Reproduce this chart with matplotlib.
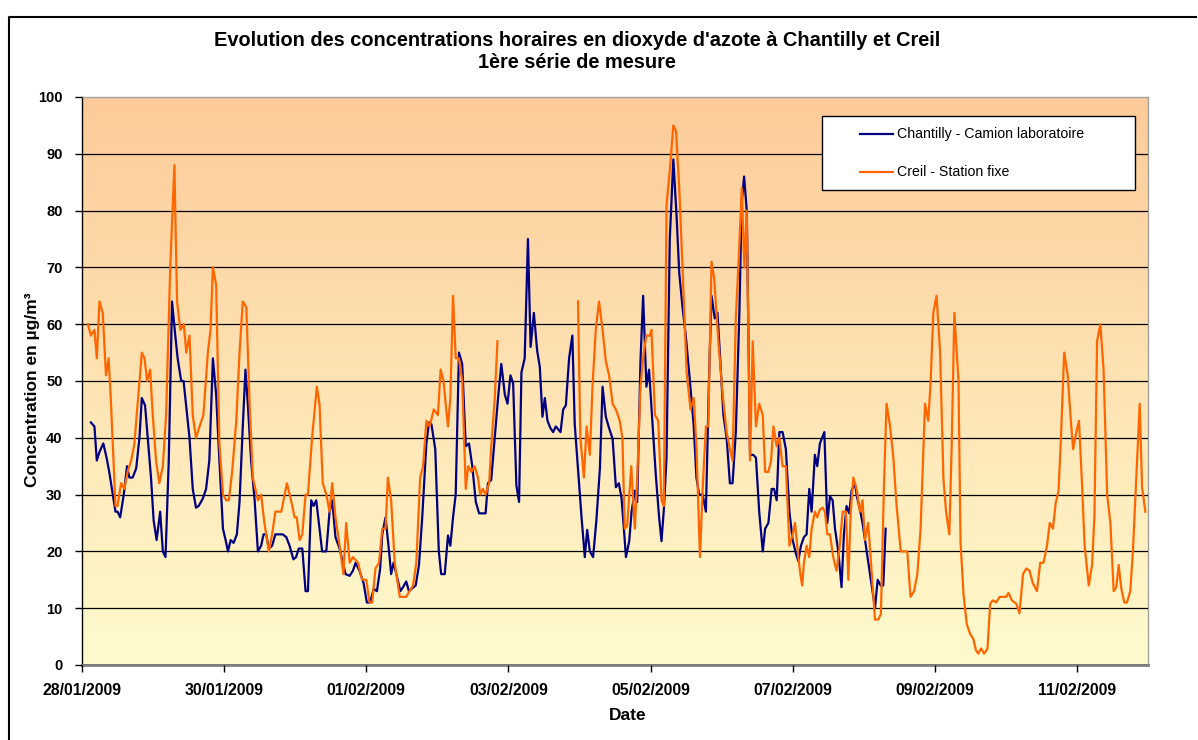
import matplotlib
matplotlib.use("Agg")
import matplotlib.pyplot as plt
import matplotlib.dates as mdates
from matplotlib.colors import LinearSegmentedColormap
from matplotlib.lines import Line2D
from matplotlib.patches import Rectangle
import numpy as np
import pandas as pd

plt.rcParams["font.family"] = ["Liberation Sans", "DejaVu Sans"]

# hours since 28/01/2009 00:00, NO2 in µg/m³
start = pd.Timestamp("2009-01-28 00:00")

chantilly_h = [
    3, 4.2, 5, 5.9, 7.2, 8.3, 9.2, 10.4, 11.3, 12, 12.9, 14.1, 15.2, 16, 17.1,
    18.3, 19.4, 20.2, 21.3, 22.2, 23.3, 24.2, 25.2, 26.4, 27.3, 28.2, 29.3,
    30.4, 31.5, 32.3, 33.5, 34.3, 35.5, 36.3, 37.4, 38.5, 39.4, 40.8, 41.9,
    43, 44.2, 45.3, 46.4, 47.6, 48.5, 49.3, 50.2, 51.2, 52.3, 53.2, 54.3,
    55.2, 56, 57.1, 58.3, 59.4, 60.5, 61.3, 62.2, 63.1, 64.2, 65.3, 67.8, 69,
    70.1, 71.4, 72.3, 73.2, 74.4, 75.5, 76.3, 77.4, 78.2, 79.1, 80.2, 81.1,
    82.5, 83.6, 84.5, 85.6, 87, 88.1, 89, 90.4, 91.5, 92.4, 93.7, 95.1, 96.2,
    97.3, 98.5, 99.6, 100.7, 101.4, 102.5, 103.7, 104.4, 105.2, 106.3, 107.5,
    108.4, 109.5, 110.4, 111.5, 112.7, 113.8, 114.9, 116.3, 117.2, 118, 119.3,
    120.5, 121.3, 122.5, 123.6, 124.4, 125.3, 126.2, 127.3, 128.4, 129.6,
    130.7, 131.8, 133, 134.1, 136.3, 137.1, 138.2, 139.4, 140.5, 141.6, 142.8,
    143.7, 144.7, 145.6, 146.7, 147.6, 148.4, 149.5, 150.6, 151.5, 152.6,
    153.7, 154.6, 155.5, 156.3, 157.2, 158.2, 159.1, 160, 161.6, 162.5, 163.4,
    164.5, 165.6, 166.4, 167.5, 168.7, 169.8, 170.6, 171.5, 172.6, 173.7,
    174.9, 175.8, 176.9, 178, 179.2, 180.3, 181.3, 182.2, 182.8, 183.7, 184.8,
    185.6, 186.7, 187.5, 188.6, 189.5, 190.6, 191.5, 192.7, 193.8, 194.9,
    195.7, 196.5, 197.4, 198.5, 199.7, 200.8, 201.7, 202.8, 203.9, 205.3,
    206.6, 207.5, 208.4, 209.6, 210.7, 211.8, 212.6, 213.7, 214.6, 215.4,
    216.6, 217.7, 218.8, 219.7, 220.8, 222, 222.8, 223.6, 224.5, 225.6, 226.7,
    227.6, 228.7, 229.9, 230.7, 231.8, 232.9, 233.7, 234.6, 235.5, 236.6,
    237.7, 238.9, 240, 241.1, 241.9, 242.8, 243.8, 244.7, 245.6, 246.4, 247.5,
    248.3, 249.2, 250.7, 251.7, 252.6, 253.5, 254.3, 255.4, 256.5, 257.3,
    258.2, 259.1, 259.9, 261, 261.8, 262.7, 263.6, 267.8, 268.7, 269.7, 270.6,
    271.4,
]
chantilly_v = [
    42.7, 42, 36, 37.5, 39, 36.5, 34, 30, 27, 27, 26, 30, 35, 33, 33,
    34.6, 40, 47, 45.7, 40, 33, 25.4, 22, 27, 20, 19, 36,
    64, 58, 54, 50, 50, 44, 40, 31, 27.7, 28, 29.3, 31,
    36, 54, 47.6, 36, 24, 22, 20, 22, 21.5, 23, 28.7, 42,
    52, 46, 36, 29, 20, 21, 23, 23, 20.5, 21, 23, 23, 22.5,
    21, 18.6, 19, 20.5, 20.5, 13, 13, 29, 28, 29, 24, 20,
    20, 27, 29, 22.5, 20.5, 18, 16, 15.7, 16.6, 18, 16.6, 14.4, 11,
    11, 13.4, 13, 17, 23, 26, 20, 16, 18, 15.7, 13,
    13.7, 14.7, 13, 13.5, 14, 17.6, 26, 39, 42.7, 42.4, 38,
    20, 16, 16, 22.8, 21, 26, 30, 55, 53, 38.5,
    39, 35, 28.7, 26.7, 26.7, 32, 32.6, 40, 47, 53, 47.6,
    46, 51, 49.6, 31.6, 28.7, 51.5, 54, 75, 56, 62,
    55.4, 52.5, 43.7, 47, 43, 41.7, 41, 42, 41, 45, 45.7,
    54, 58, 42.4, 34.6, 26, 19, 23.8, 20, 19, 25.4,
    34.6, 49, 43.7, 41.7, 39.8, 31.3, 32, 29.4, 25.4, 19, 21.8,
    27, 30.7, 28.7, 53.5, 65, 49, 52, 42.4, 33.3, 26,
    21.8, 27.4, 36.5, 75, 89, 79, 69, 63, 58, 50,
    42, 33, 30, 30, 27, 51.5, 65, 61, 62, 55,
    44, 40, 32, 32, 41, 62, 81.5, 86, 80, 37, 37,
    36.5, 27, 20, 24, 25, 31, 31, 29, 41, 41,
    38, 27, 22, 19.6, 18.3, 21, 22.5, 23, 31, 27, 37,
    35, 39, 41, 25, 29.7, 29, 24, 20, 13.7, 23,
    28, 26.7, 30.7, 32, 29.4, 27.4, 25, 10, 15, 14, 14,
    24,
]

creil_h = [
    2, 3, 4.2, 5, 5.9, 7, 8.1, 9, 9.8, 11.3, 12, 13.2, 14.3, 15.4, 16.6, 17.7,
    18.8, 20.2, 21.1, 22, 23, 23.9, 25, 26.1, 27.3, 28.4, 29.8, 31.2, 32.1,
    33.2, 34.4, 35.2, 36.3, 37.4, 38.5, 39.7, 41, 42.5, 43.4, 44.2, 45.3,
    46.4, 47.6, 48.7, 49.6, 50.7, 52.1, 53.2, 54.3, 55.5, 56.6, 57.7, 59.4,
    60.5, 61.6, 63.1, 64.2, 65.3, 67.3, 69.2, 70.6, 71.8, 72.5, 73.5, 74.4,
    75.5, 76.3, 77.7, 79.3, 80.2, 81.3, 82.5, 83.6, 84.5, 85.6, 87, 88.3,
    89.2, 90.4, 91.5, 93.2, 94.6, 96, 97.1, 98, 99.1, 100.3, 101.4, 102.5,
    103.3, 104.4, 105.6, 107.3, 109.5, 110.6, 111.8, 112.9, 114.2, 115.2,
    116.3, 117.4, 118.8, 120.2, 121.1, 122.1, 122.8, 123.6, 124.4, 125.3,
    126.2, 127.3, 128.4, 129.6, 130.4, 131.5, 132.6, 133.7, 134.5, 135.4,
    136.3, 137.5, 138.2, 139.4, 140.3, 150, 167.5, 168.3, 169.5, 170.4,
    171.5, 172.4, 173.5, 174.6, 175.8, 176.9, 178, 179.2, 180.3, 181.6,
    182.5, 183.3, 184.1, 185.5, 186.7, 187.5, 188.6, 189.7, 190.6, 191.8,
    192.3, 193.5, 194.6, 195.7, 196.5, 197.4, 198.5, 199.7, 200.6, 201.7,
    202.8, 204.2, 205.5, 206.6, 207.5, 208.7, 209.6, 210.7, 211.5, 212.6,
    213.5, 214.9, 216.3, 217.7, 218.8, 219.7, 220.8, 222, 222.8, 223.7,
    224.5, 225.6, 226.5, 227.6, 228.7, 229.9, 230.7, 231.8, 232.7, 233.5,
    234.6, 235.5, 236.6, 237.7, 238.9, 240, 240.8, 241.9, 242.6, 243.2,
    243.8, 244.7, 245.6, 246.4, 247.5, 248.3, 249.2, 250.1, 250.9, 251.7,
    252.6, 253.7, 254.8, 255.7, 256.9, 258, 258.8, 259.6, 260.5, 261.6,
    262.7, 263.6, 264.4, 265.5, 266.7, 267.8, 268.9, 269.8, 270.8, 271.7,
    272.9, 274, 275.1, 276.5, 278.7, 279.8, 281, 282.1, 283.2, 284.7, 285.8,
    286.6, 287.5, 288.6, 289.8, 290.9, 291.8, 292.9, 293.7, 294.6, 296,
    296.7, 297.7, 298.8, 299.9, 301, 301.9, 302.7, 303.6, 304.7, 305.8,
    306.7, 307.6, 308.7, 309.9, 312.1, 312.9, 314, 315.5, 316.6, 317.8,
    318.9, 320, 321.1, 322.5, 323.6, 324.7, 325.9, 326.8, 327.9, 328.8,
    329.8, 330.6, 331.7, 332.9, 333.8, 334.7, 335.8, 336.7, 337.7, 338.6,
    340, 341.1, 341.9, 342.8, 343.9, 345, 346.2, 347.3, 348.4, 349.3, 350.1,
    351, 352, 352.9, 354, 354.9, 356, 357.2, 358, 359.1,
]
creil_v = [
    60, 58, 59, 54, 64, 62, 51, 54, 46, 28, 28, 32, 31, 34, 36, 39,
    46, 55, 54, 50, 52, 44, 36, 32, 35, 44, 70, 88, 64,
    59, 60, 55, 58, 44, 40, 42, 44, 55, 59, 70, 67,
    39, 30, 29, 29, 34, 43, 55, 64, 63, 46, 33, 29,
    30, 25, 20, 23, 27, 27, 32, 29, 26, 26, 22, 23,
    30, 30, 40, 49, 46, 32, 30, 27, 32, 26, 21, 16,
    25, 18, 19, 18, 15, 15, 11, 11, 17, 18, 24, 24,
    33, 29, 18, 12, 12, 13, 14, 18, 33, 35,
    43, 42, 45, 44, 52, 50, 46, 42, 47, 65,
    54, 54, 50, 31, 35, 34, 35, 33, 30, 31,
    30, 32, 38.5, 47, 57, np.nan, 64, 40, 33, 42,
    37, 49, 59, 64, 59, 53.5, 51, 46, 45, 43,
    40, 24, 24.5, 35, 24, 33, 49, 55, 58, 58,
    59, 44, 43, 29, 28, 81, 87, 95, 94, 84,
    70, 51.5, 45, 47, 38.5, 19, 31, 42, 42, 71,
    68, 57, 48, 41, 38, 36, 61, 74, 84, 70,
    80, 36, 57, 42, 46, 44, 34, 34, 36, 42,
    38.5, 40, 35, 35, 21, 23, 25, 19, 16, 14,
    18, 21, 19, 24, 27, 26, 27.4, 27.7, 27, 23,
    23, 19, 16.6, 20, 27, 27, 15, 27, 33, 31,
    27, 29, 22, 25, 16, 8, 8, 9, 31, 46,
    42, 36.5, 28, 20, 20, 12, 13, 16, 24, 46, 43,
    50, 62, 65, 55, 33, 27, 23, 38.5, 62, 50,
    21.5, 12.4, 7.2, 5.5, 4.6, 2.6, 2, 2.9, 2, 2.9,
    10.8, 11.4, 11, 12, 12, 12.7, 11.4, 10.8, 9.1, 16,
    17, 16.6, 14.4, 13, 18, 18, 21, 25, 24, 28.4,
    30.7, 40, 55, 51, 44, 38, 41, 43, 32, 21,
    14, 17.6, 26, 57, 60, 52, 30, 25, 13, 13.7, 17.6,
    13.4, 11, 11, 13, 20, 32.6, 46, 31.3, 27,
]

series_labels = ["Chantilly - Camion laboratoire", "Creil - Station fixe"]
series_colors = ["#000080", "#FF6600"]
date_ticks = pd.date_range("2009-01-28", "2009-02-11", freq="2D")

chantilly_t = start + pd.to_timedelta(chantilly_h, unit="h")
creil_t = start + pd.to_timedelta(creil_h, unit="h")

W, H = 1198, 740
fig = plt.figure(figsize=(W / 100, H / 100), dpi=100)
ax = fig.add_axes([82 / W, 1 - 665 / H, 1066 / W, 568 / H])

# plot-area gradient, peach at the top to pale yellow at the bottom
cmap = LinearSegmentedColormap.from_list("bg", ["#FFFBCD", "#FDCB9A"])
grad = np.linspace(0, 1, 256).reshape(-1, 1)
ax.imshow(grad, extent=[0, 1, 0, 1], transform=ax.transAxes, origin="lower",
          aspect="auto", cmap=cmap, zorder=0)

ax.plot(chantilly_t, chantilly_v, color=series_colors[0], lw=1.6, zorder=3)
ax.plot(creil_t, creil_v, color=series_colors[1], lw=1.6, zorder=4)

ax.set_xlim(start, start + pd.Timedelta(days=15))
ax.set_ylim(0, 100)
ax.set_yticks(range(0, 101, 10))
ax.set_xticks(date_ticks)
ax.xaxis.set_major_formatter(mdates.DateFormatter("%d/%m/%Y"))
ax.yaxis.grid(True, color="black", lw=0.9)
ax.set_axisbelow(False)
for gl in ax.get_ygridlines():
    gl.set_zorder(1)
ax.get_ygridlines()[-1].set_visible(False)

ax.tick_params(axis="y", direction="out", length=5, width=1, pad=9,
               labelsize=10.5)
ax.tick_params(axis="x", direction="out", length=5, width=1, pad=8,
               labelsize=11.4)
for lab in ax.get_xticklabels() + ax.get_yticklabels():
    lab.set_fontweight("bold")

for s in ["top", "right"]:
    ax.spines[s].set_color("#a0a0a0")
    ax.spines[s].set_linewidth(1)
ax.spines["bottom"].set_color("#808080")
ax.spines["bottom"].set_linewidth(2)
ax.spines["left"].set_color("black")
ax.spines["left"].set_linewidth(1)

fig.text(577 / W, 1 - 40 / H,
         "Evolution des concentrations horaires en dioxyde d'azote à Chantilly et Creil",
         ha="center", va="center", fontsize=14.4, fontweight="bold")
fig.text(577 / W, 1 - 63 / H, "1ère série de mesure",
         ha="center", va="center", fontsize=14.4, fontweight="bold")
fig.text(628 / W, 1 - 716 / H, "Date", ha="center", va="center",
         fontsize=12.5, fontweight="bold")
fig.text(33 / W, 1 - 390 / H, "Concentration en µg/m³", ha="center",
         va="center", rotation=90, fontsize=12.5, fontweight="bold")

# legend box
fig.add_artist(Rectangle((822 / W, 1 - 190 / H), 313 / W, 74 / H,
                         transform=fig.transFigure, facecolor="white",
                         edgecolor="black", lw=1, zorder=5))
for k, y in enumerate([134, 172]):
    fig.add_artist(Line2D([860 / W, 893 / W], [1 - y / H, 1 - y / H],
                          transform=fig.transFigure, color=series_colors[k],
                          lw=1.6, zorder=6))
    fig.text(897 / W, 1 - y / H, series_labels[k], ha="left", va="center",
             fontsize=10.2, zorder=6)

# chart border
fig.add_artist(Line2D([9 / W, 9 / W, 1196 / W], [-0.1, 1 - 17 / H, 1 - 17 / H],
                      transform=fig.transFigure, color="black", lw=1.5))

fig.savefig("out.png", dpi=100)
